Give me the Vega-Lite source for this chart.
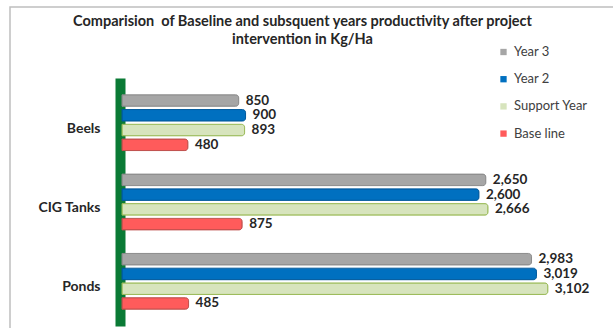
{
  "$schema": "https://vega.github.io/schema/vega-lite/v6.json",
  "width": 613,
  "height": 328,
  "autosize": "none",
  "padding": {"left": 10, "top": 7, "right": -10, "bottom": -7},
  "title": {
    "text": ["Comparision\u00a0 of Baseline and subsquent years productivity after project", "intervention in Kg/Ha"],
    "anchor": "middle",
    "frame": "group",
    "baseline": "top",
    "offset": 0,
    "dy": 40.5,
    "dx": -14,
    "font": "Lato",
    "fontSize": 14.5,
    "fontWeight": "bold",
    "color": "#262626",
    "lineHeight": 18.5
  },
  "data": {
    "values": [
      {"category": "Beels", "series": "Year 3", "value": 850},
      {"category": "Beels", "series": "Year 2", "value": 900},
      {"category": "Beels", "series": "Support Year", "value": 893},
      {"category": "Beels", "series": "Base line", "value": 480},
      {"category": "CIG Tanks", "series": "Year 3", "value": 2650},
      {"category": "CIG Tanks", "series": "Year 2", "value": 2600},
      {"category": "CIG Tanks", "series": "Support Year", "value": 2666},
      {"category": "CIG Tanks", "series": "Base line", "value": 875},
      {"category": "Ponds", "series": "Year 3", "value": 2983},
      {"category": "Ponds", "series": "Year 2", "value": 3019},
      {"category": "Ponds", "series": "Support Year", "value": 3102},
      {"category": "Ponds", "series": "Base line", "value": 485}
    ]
  },
  "encoding": {
    "y": {
      "field": "category",
      "type": "nominal",
      "sort": ["Beels", "CIG Tanks", "Ponds"],
      "scale": {"range": [76, 314], "paddingInner": 0.256, "paddingOuter": 0.128},
      "axis": {
        "title": null,
        "offset": -110,
        "ticks": false,
        "labelPadding": 20,
        "labelFont": "Lato",
        "labelFontWeight": "bold",
        "labelFontSize": 14,
        "labelColor": "#262626",
        "labelOffset": 6,
        "domainColor": "#0A7A35",
        "domainWidth": 10,
        "domainCap": "square",
        "grid": false
      }
    },
    "yOffset": {
      "field": "series",
      "type": "nominal",
      "sort": ["Year 3", "Year 2", "Support Year", "Base line"],
      "scale": {"paddingInner": 0.22, "paddingOuter": 0.11}
    },
    "x": {
      "field": "value",
      "type": "quantitative",
      "scale": {"domain": [0, 3500], "range": [112, 592.5]},
      "axis": null
    }
  },
  "layer": [
    {
      "mark": {"type": "bar", "cornerRadiusEnd": 3, "strokeWidth": 1},
      "encoding": {
        "color": {
          "field": "series",
          "type": "nominal",
          "scale": {
            "domain": ["Year 3", "Year 2", "Support Year", "Base line"],
            "range": ["#A6A6A6", "#0070C0", "#D7E4BD", "#FF5B5B"]
          },
          "legend": {
            "orient": "none",
            "legendX": 487,
            "legendY": 38.5,
            "title": null,
            "symbolType": "square",
            "symbolSize": 40,
            "symbolStrokeWidth": 0,
            "labelFont": "Lato",
            "labelFontSize": 13,
            "labelColor": "#404040",
            "rowPadding": 13.2,
            "labelOffset": 4
          }
        },
        "stroke": {
          "field": "series",
          "type": "nominal",
          "scale": {
            "domain": ["Year 3", "Year 2", "Support Year", "Base line"],
            "range": ["#8C8C8C", "#005A9E", "#9BBB59", "#C0504D"]
          },
          "legend": null
        }
      }
    },
    {
      "mark": {
        "type": "text",
        "align": "left",
        "baseline": "middle",
        "dx": 7,
        "font": "Lato",
        "fontWeight": "bold",
        "fontSize": 13.5,
        "color": "#262626"
      },
      "encoding": {
        "text": {"field": "value", "type": "quantitative", "format": ","}
      }
    }
  ],
  "config": {
    "view": {"stroke": "#BFBFBF", "strokeWidth": 1.5}
  }
}
